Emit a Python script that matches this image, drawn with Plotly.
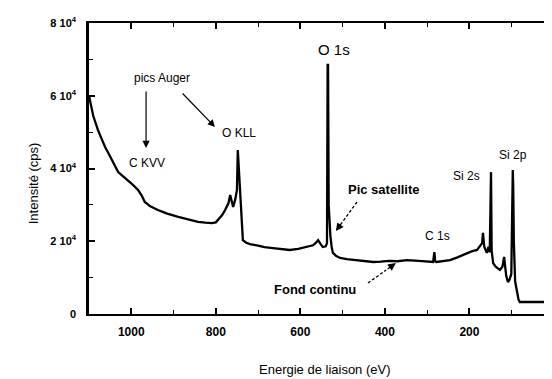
import plotly.graph_objects as go

# Binding energy (eV) and intensity (cps)
energy = [1100, 1098, 1090, 1079, 1070, 1062, 1054, 1046, 1038, 1031, 1020, 1008, 996, 984,
          975, 968, 955, 937, 915, 889, 865, 842, 825, 809, 800, 795, 785, 778, 770, 766,
          762, 759, 754, 750, 748, 746, 743, 740, 738, 736, 728, 719, 700, 685, 665, 645,
          625, 605, 584, 570, 563, 558, 552, 547, 540, 537, 535.5, 534.5, 533, 531, 529,
          526, 523, 515, 506, 490, 466, 450, 428, 410, 390, 370, 348, 320, 300, 290, 286,
          283, 281, 278, 265, 246, 230, 215, 206, 195, 182, 175, 170, 168, 165, 159, 155,
          152, 150.5, 149, 147.5, 146, 144, 138, 133, 128, 122, 118, 116, 113, 109, 105,
          101, 99, 97.5, 96.5, 95, 92, 88, 84, 81, 70, 55, 40, 26, 10, 0]
intensity = [60000, 58800, 54500, 50600, 48000, 45900, 44200, 42300, 40600, 39000, 37900,
             36800, 35500, 34100, 32500, 30800, 29600, 28600, 27600, 26700, 26000, 25300,
             25100, 25000, 25200, 25800, 27200, 28600, 30500, 32700, 30500, 29400, 31500,
             34100, 45100, 40400, 34000, 26000, 23900, 20300, 19600, 19200, 18800, 18400,
             18100, 17800, 17600, 17900, 18400, 18900, 19600, 20300, 19200, 18400, 18600,
             19500, 68500, 68500, 30000, 24500, 21500, 18500, 16800, 15900, 15400, 15100,
             14800, 14500, 14300, 14400, 14600, 14500, 14800, 14600, 14400, 14300, 14300,
             17000, 14500, 14300, 14500, 14800, 15500, 16200, 16800, 17200, 17600, 18800,
             19500, 22300, 18500, 16800, 18500, 17000, 39000, 39000, 17500, 15000, 14000,
             13000, 12600, 12100, 13000, 15700, 13500, 10500, 8800, 9500, 11000, 30000,
             39600, 35000, 20000, 9000, 6600, 4000, 3300, 3300, 3400, 3300, 3300, 3300, 3300]

y_tickvals = [0, 20000, 40000, 60000, 80000]
y_ticktext = ["0", "2 10<sup>4</sup>", "4 10<sup>4</sup>", "6 10<sup>4</sup>", "8 10<sup>4</sup>"]
x_tickvals = [1000, 800, 600, 400, 200, 0]
x_ticktext = ["1000", "800", "600", "400", "200", "0"]

FONT = "Liberation Sans, Arial, sans-serif"

fig = go.Figure()
fig.add_trace(go.Scatter(x=energy, y=intensity, mode="lines",
                         line=dict(color="black", width=2.3), showlegend=False,
                         hoverinfo="skip"))

# page body has an 8px margin: figure is sized so the plot frame lands where
# the reference has it, with its right edge just past the visible window
fig.update_layout(
    width=546, height=371,
    margin=dict(l=81, r=0, t=15, b=65),
    paper_bgcolor="white", plot_bgcolor="white",
    font=dict(family=FONT, color="black", size=11),
)
fig.update_xaxes(
    range=[1100, 0], showgrid=False, zeroline=False, automargin=False,
    showline=True, linecolor="black", linewidth=2, mirror="ticks",
    ticks="inside", ticklen=6, tickwidth=1.5, tickcolor="black",
    tickvals=x_tickvals, ticktext=x_ticktext,
    tickfont=dict(family=FONT, size=12, color="black", weight="bold"),
    ticklabelstandoff=6,
    minor=dict(tickvals=[900, 700, 500, 300, 100], ticks="inside", ticklen=4,
               tickwidth=1, tickcolor="black"),
)
fig.update_yaxes(
    range=[0, 80000], showgrid=False, zeroline=False, automargin=False,
    showline=True, linecolor="black", linewidth=2.5, mirror="ticks",
    ticks="inside", ticklen=6, tickwidth=1.5, tickcolor="black",
    tickvals=y_tickvals, ticktext=y_ticktext,
    tickfont=dict(family=FONT, size=11, color="black", weight="bold"),
    ticklabelstandoff=8,
    minor=dict(tickvals=[10000, 30000, 50000, 70000], ticks="inside", ticklen=4,
               tickwidth=1, tickcolor="black"),
)

labels = [
    ("O 1s", 520.5, 72850, 15, "normal"),
    ("pics Auger", 927, 64900, 12, "normal"),
    ("C KVV", 963, 41500, 12, "normal"),
    ("O KLL", 745, 49760, 12, "normal"),
    ("Pic satellite", 402, 34360, 13, "bold"),
    ("C 1s", 275, 21440, 12, "normal"),
    ("Si 2s", 206, 37940, 12, "normal"),
    ("Si 2p", 97, 43700, 12, "normal"),
    ("Fond continu", 565.5, 6870, 13, "bold"),
]
for txt, x, y, s, w in labels:
    fig.add_annotation(x=x, y=y, text=txt, showarrow=False,
                       font=dict(family=FONT, size=s, color="black", weight=w))

# solid arrows
for (tx, ty, hx, hy) in [(965, 61580, 965, 45630), (882, 61030, 802, 51400)]:
    fig.add_annotation(x=hx, y=hy, ax=tx, ay=ty, axref="x", ayref="y",
                       text="", showarrow=True, arrowhead=2, arrowsize=1.2,
                       arrowwidth=1.2, arrowcolor="black")

# dashed arrows
for (tx, ty, hx, hy) in [(466, 30790, 516, 22820), (440, 8520, 374, 14020)]:
    mx = hx + (tx - hx) * 0.35
    my = hy + (ty - hy) * 0.35
    fig.add_shape(type="line", x0=tx, y0=ty, x1=mx, y1=my,
                  line=dict(color="black", width=1.3, dash="3px,2px"))
    fig.add_annotation(x=hx, y=hy, ax=mx, ay=my, axref="x", ayref="y",
                       text="", showarrow=True, arrowhead=2, arrowsize=1.2,
                       arrowwidth=1.3, arrowcolor="black")

fig.add_annotation(x=0.5075, y=-0.19, xref="paper", yref="paper",
                   text="Energie de liaison (eV)", showarrow=False,
                   xanchor="center", yanchor="middle",
                   font=dict(family=FONT, size=13, color="black"))
fig.add_annotation(x=-0.12, y=0.45, xref="paper", yref="paper",
                   text="Intensité (cps)", showarrow=False, textangle=-90,
                   xanchor="center", yanchor="middle",
                   font=dict(family=FONT, size=13, color="black"))

fig.write_html("out.html")
